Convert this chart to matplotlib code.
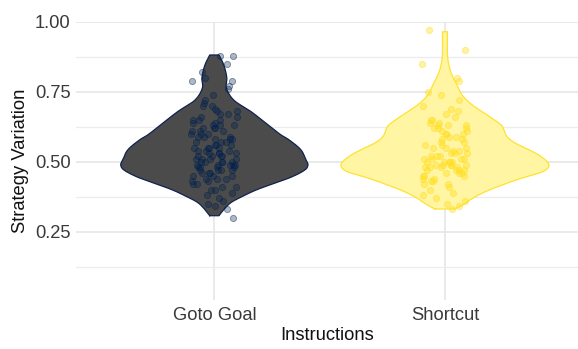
import numpy as np
import matplotlib
matplotlib.use("Agg")
import matplotlib.pyplot as plt
from matplotlib.ticker import MultipleLocator
from matplotlib import font_manager

available = {f.name for f in font_manager.fontManager.ttflist}
if 'Liberation Sans Narrow' in available:
    plt.rcParams['font.family'] = ['Liberation Sans Narrow', 'DejaVu Sans']
    TEXT_SIZE = 15.5
else:
    plt.rcParams['font.family'] = ['Liberation Sans', 'DejaVu Sans']
    TEXT_SIZE = 13.2

categories = ["Goto Goal", "Shortcut"]

# Violin outlines: strategy-variation levels and the half-width of the density at each level
goto_levels = [0.307, 0.329, 0.354, 0.375, 0.400, 0.425, 0.446, 0.471, 0.489, 0.507,
               0.543, 0.579, 0.596, 0.630, 0.680, 0.720, 0.764, 0.800, 0.846, 0.882]
goto_halfwidth = [0.020, 0.041, 0.072, 0.119, 0.184, 0.267, 0.336, 0.393, 0.406, 0.397,
                  0.375, 0.323, 0.289, 0.236, 0.158, 0.085, 0.052, 0.054, 0.041, 0.020]

short_levels = [0.331, 0.346, 0.370, 0.394, 0.418, 0.442, 0.465, 0.489, 0.519, 0.543,
                0.567, 0.590, 0.614, 0.632, 0.668, 0.704, 0.739, 0.775, 0.811, 0.846,
                0.882, 0.965]
short_halfwidth = [0.043, 0.078, 0.121, 0.178, 0.252, 0.334, 0.425, 0.451, 0.416, 0.364,
                   0.304, 0.269, 0.256, 0.243, 0.182, 0.117, 0.074, 0.052, 0.030, 0.017,
                   0.011, 0.011]

# Individual participants' strategy variation
goto_values = [0.88, 0.88, 0.85, 0.82, 0.80, 0.79, 0.79, 0.77, 0.76, 0.74, 0.72, 0.71,
               0.70, 0.70, 0.69, 0.68, 0.68, 0.67, 0.67, 0.66, 0.66, 0.65, 0.65, 0.65,
               0.64, 0.64, 0.63, 0.63, 0.63, 0.62, 0.62, 0.62, 0.61, 0.61, 0.61, 0.60,
               0.60, 0.60, 0.59, 0.59, 0.59, 0.58, 0.58, 0.58, 0.57, 0.57, 0.57, 0.56,
               0.56, 0.56, 0.55, 0.55, 0.55, 0.55, 0.54, 0.54, 0.54, 0.53, 0.53, 0.53,
               0.53, 0.52, 0.52, 0.52, 0.52, 0.51, 0.51, 0.51, 0.51, 0.50, 0.50, 0.50,
               0.50, 0.50, 0.49, 0.49, 0.49, 0.49, 0.49, 0.48, 0.48, 0.48, 0.48, 0.47,
               0.47, 0.47, 0.47, 0.46, 0.46, 0.46, 0.45, 0.45, 0.45, 0.44, 0.44, 0.44,
               0.43, 0.43, 0.42, 0.42, 0.41, 0.41, 0.40, 0.40, 0.39, 0.38, 0.37, 0.36,
               0.35, 0.34, 0.33, 0.30]
short_values = [0.97, 0.90, 0.85, 0.80, 0.79, 0.75, 0.74, 0.72, 0.70, 0.69, 0.68, 0.67,
                0.66, 0.65, 0.65, 0.64, 0.64, 0.63, 0.63, 0.63, 0.62, 0.62, 0.62, 0.61,
                0.61, 0.60, 0.60, 0.60, 0.59, 0.59, 0.58, 0.58, 0.57, 0.57, 0.56, 0.56,
                0.55, 0.55, 0.55, 0.54, 0.54, 0.53, 0.53, 0.53, 0.52, 0.52, 0.52, 0.51,
                0.51, 0.51, 0.51, 0.50, 0.50, 0.50, 0.50, 0.50, 0.49, 0.49, 0.49, 0.49,
                0.49, 0.48, 0.48, 0.48, 0.48, 0.47, 0.47, 0.47, 0.47, 0.46, 0.46, 0.46,
                0.45, 0.45, 0.45, 0.44, 0.44, 0.43, 0.43, 0.42, 0.42, 0.41, 0.40, 0.39,
                0.38, 0.37, 0.36, 0.35, 0.34, 0.33]

y_ticks = [0.25, 0.50, 0.75, 1.00]
y_ticklabels = ["0.25", "0.50", "0.75", "1.00"]

fill_colors = ["#4b4b4b", "#fff5a3"]
edge_colors = ["#0f2150", "#ffe22e"]
point_colors = ["#00204d", "#ffdf20"]
point_alpha = [0.32, 0.40]


def hermite_profile(levels, widths, n=400):
    """Smooth cubic Hermite curve through the outline samples."""
    x = np.asarray(levels, float)
    w = np.asarray(widths, float)
    m = np.empty_like(w)
    m[1:-1] = (w[2:] - w[:-2]) / (x[2:] - x[:-2])
    m[0] = (w[1] - w[0]) / (x[1] - x[0])
    m[-1] = (w[-1] - w[-2]) / (x[-1] - x[-2])
    fine = np.linspace(x[0], x[-1], n)
    idx = np.clip(np.searchsorted(x, fine) - 1, 0, len(x) - 2)
    h = x[idx + 1] - x[idx]
    t = (fine - x[idx]) / h
    h00 = 2 * t**3 - 3 * t**2 + 1
    h10 = t**3 - 2 * t**2 + t
    h01 = -2 * t**3 + 3 * t**2
    h11 = t**3 - t**2
    out = h00 * w[idx] + h10 * h * m[idx] + h01 * w[idx + 1] + h11 * h * m[idx + 1]
    return fine, np.clip(out, 0, None)


fig = plt.figure(figsize=(5.78, 3.49), dpi=100)
ax = fig.add_axes([0.1315, 0.140, 0.8685, 0.797])

profiles = [(goto_levels, goto_halfwidth), (short_levels, short_halfwidth)]
values = [goto_values, short_values]
rng = np.random.default_rng(7)

for i, ((lv, hw), vals) in enumerate(zip(profiles, values)):
    pos = i + 1
    yy, ww = hermite_profile(lv, hw)
    xs = np.concatenate([pos - ww, (pos + ww)[::-1], [pos - ww[0]]])
    ys = np.concatenate([yy, yy[::-1], [yy[0]]])
    ax.fill(xs, ys, color=fill_colors[i], zorder=2, linewidth=0)
    ax.plot(xs, ys, color=edge_colors[i], lw=0.9, zorder=3)
    jitter = rng.uniform(-0.1, 0.1, len(vals))
    ax.scatter(pos + jitter, vals, s=20,
               facecolor=matplotlib.colors.to_rgba(point_colors[i], point_alpha[i]),
               edgecolor=matplotlib.colors.to_rgba(point_colors[i], point_alpha[i] + 0.15),
               linewidth=0.6, zorder=4)

ax.set_xlim(0.4, 2.577)
ax.set_ylim(0.005, 1.0)
ax.set_xticks([1, 2])
ax.set_xticklabels(categories)
ax.set_yticks(y_ticks)
ax.set_yticklabels(y_ticklabels)
ax.yaxis.set_minor_locator(MultipleLocator(0.125))

ax.grid(True, which='major', axis='both', color='#e4e4e4', lw=1.1, zorder=0)
ax.grid(True, which='minor', axis='y', color='#ececec', lw=0.9, zorder=0)
ax.set_axisbelow(True)
for s in ax.spines.values():
    s.set_visible(False)
ax.tick_params(axis='both', which='both', length=0, labelsize=TEXT_SIZE, colors='#3a3a3a')
ax.tick_params(axis='y', pad=4)
ax.tick_params(axis='x', pad=5)

ax.set_xlabel("Instructions", fontsize=TEXT_SIZE, color='#111111', labelpad=2)
ax.set_ylabel("Strategy Variation", fontsize=TEXT_SIZE, color='#111111', labelpad=4)

fig.savefig("out.png", dpi=100)
